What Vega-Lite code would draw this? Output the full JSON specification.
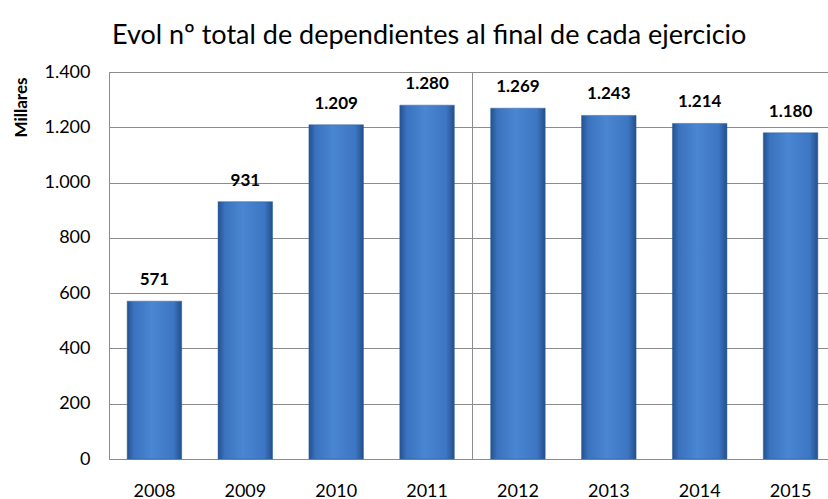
{
  "$schema": "https://vega.github.io/schema/vega-lite/v6.json",
  "autosize": "none",
  "width": 727,
  "height": 387,
  "padding": {"left": 109, "top": 72, "right": 0, "bottom": 40},
  "background": "white",
  "title": {
    "text": "Evol nº total de dependientes al final de cada ejercicio",
    "anchor": "start",
    "frame": "group",
    "dx": 3,
    "dy": 36,
    "offset": 28,
    "baseline": "alphabetic",
    "font": "Lato",
    "fontSize": 27,
    "fontWeight": "normal",
    "color": "#000000"
  },
  "config": {
    "locale": {"number": {"decimal": ",", "thousands": ".", "grouping": [3], "currency": ["", " €"]}},
    "view": {"stroke": "#8c8c8c", "strokeWidth": 1},
    "font": "Lato"
  },
  "data": {
    "values": [
      {"year": "2008", "value": 571},
      {"year": "2009", "value": 931},
      {"year": "2010", "value": 1209},
      {"year": "2011", "value": 1280},
      {"year": "2012", "value": 1269},
      {"year": "2013", "value": 1243},
      {"year": "2014", "value": 1214},
      {"year": "2015", "value": 1180}
    ]
  },
  "layer": [
    {
      "mark": {
        "type": "bar",
        "width": {"band": 0.6},
        "color": {
          "gradient": "linear",
          "x1": 0, "x2": 1, "y1": 0, "y2": 0,
          "stops": [
            {"offset": 0, "color": "#23518f"},
            {"offset": 0.12, "color": "#3a72bd"},
            {"offset": 0.45, "color": "#4a86d2"},
            {"offset": 0.85, "color": "#3d76c2"},
            {"offset": 1, "color": "#244f8a"}
          ]
        },
        "stroke": "#2f5f9f",
        "strokeWidth": 0.5
      },
      "encoding": {
        "x": {
          "field": "year",
          "type": "ordinal",
          "scale": {"paddingInner": 0, "paddingOuter": 0},
          "axis": {
            "title": null,
            "labelAngle": 0,
            "labelFont": "Lato",
            "labelFontSize": 18,
            "labelColor": "#000000",
            "labelBaseline": "alphabetic",
            "labelPadding": 37,
            "ticks": false,
            "domain": false,
            "grid": false
          }
        },
        "y": {
          "field": "value",
          "type": "quantitative",
          "scale": {"domain": [0, 1400]},
          "axis": {
            "title": "Millares",
            "titleFont": "Lato",
            "titleFontSize": 17,
            "titleFontWeight": "bold",
            "titleColor": "#000000",
            "titleAngle": -90,
            "titleAlign": "right",
            "titleBaseline": "top",
            "titleY": 5,
            "titleX": -96,
            "values": [0, 200, 400, 600, 800, 1000, 1200, 1400],
            "format": ",d",
            "labelFont": "Lato",
            "labelFontSize": 18,
            "labelColor": "#000000",
            "labelPadding": 19,
            "ticks": false,
            "domainColor": "#8c8c8c",
            "gridColor": "#8c8c8c",
            "gridOpacity": 1,
            "gridWidth": 1
          }
        }
      }
    },
    {
      "mark": {
        "type": "text",
        "baseline": "alphabetic",
        "dy": -16,
        "font": "Lato",
        "fontSize": 17,
        "fontWeight": "bold",
        "color": "#000000"
      },
      "encoding": {
        "x": {"field": "year", "type": "ordinal"},
        "y": {"field": "value", "type": "quantitative"},
        "text": {"field": "value", "type": "quantitative", "format": ",d"}
      }
    },
    {
      "transform": [{"filter": "datum.year == '2012'"}],
      "mark": {"type": "rule", "color": "#8c8c8c", "strokeWidth": 1},
      "encoding": {
        "x": {"field": "year", "type": "ordinal", "bandPosition": 0},
        "y": {"datum": 0},
        "y2": {"datum": 1400}
      }
    }
  ]
}
